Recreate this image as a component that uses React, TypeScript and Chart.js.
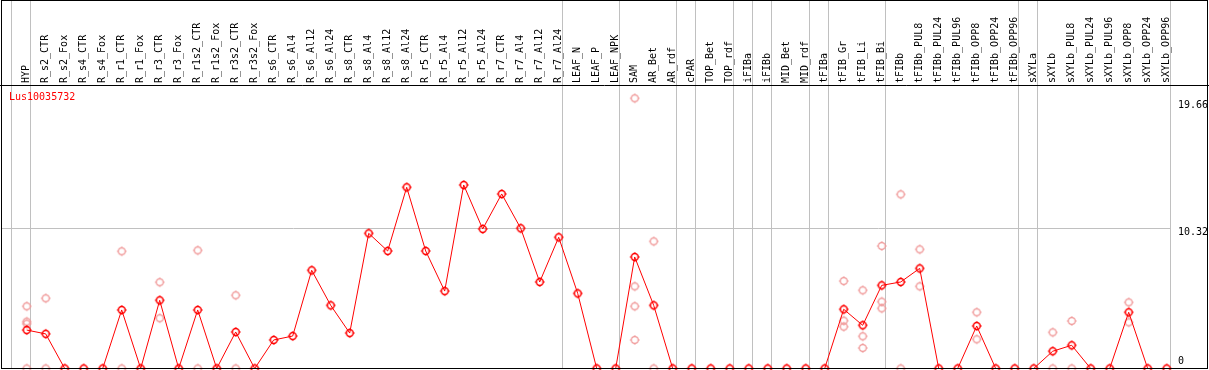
import React, { useEffect, useRef } from 'react';
import { Chart, registerables } from 'chart.js';

Chart.register(...registerables);

const GENE = 'Lus10035732';

const categories = [
  'HYP', 'R_s2_CTR', 'R_s2_Fox', 'R_s4_CTR', 'R_s4_Fox', 'R_r1_CTR', 'R_r1_Fox', 'R_r3_CTR', 'R_r3_Fox',
  'R_r1s2_CTR', 'R_r1s2_Fox', 'R_r3s2_CTR', 'R_r3s2_Fox', 'R_s6_CTR', 'R_s6_Al4', 'R_s6_Al12', 'R_s6_Al24',
  'R_s8_CTR', 'R_s8_Al4', 'R_s8_Al12', 'R_s8_Al24', 'R_r5_CTR', 'R_r5_Al4', 'R_r5_Al12', 'R_r5_Al24',
  'R_r7_CTR', 'R_r7_Al4', 'R_r7_Al12', 'R_r7_Al24', 'LEAF_N', 'LEAF_P', 'LEAF_NPK', 'SAM', 'AR_Bet', 'AR_rdf',
  'cPAR', 'TOP_Bet', 'TOP_rdf', 'iFIBa', 'iFIBb', 'MID_Bet', 'MID_rdf', 'tFIBa', 'tFIB_Gr', 'tFIB_Li', 'tFIB_Bi',
  'tFIBb', 'tFIBb_PUL8', 'tFIBb_PUL24', 'tFIBb_PUL96', 'tFIBb_OPP8', 'tFIBb_OPP24', 'tFIBb_OPP96',
  'sXYLa', 'sXYLb', 'sXYLb_PUL8', 'sXYLb_PUL24', 'sXYLb_PUL96', 'sXYLb_OPP8', 'sXYLb_OPP24', 'sXYLb_OPP96',
];

// mean expression per sample (red line)
const means = [
  2.83, 2.55, 0, 0, 0, 4.31, 0, 5.02, 0,
  4.31, 0, 2.69, 0, 2.10, 2.39, 7.23, 4.65,
  2.61, 9.95, 8.65, 13.34, 8.65, 5.70, 13.51, 10.27,
  12.85, 10.32, 6.37, 9.66, 5.53, 0, 0, 8.21, 4.65, 0,
  0, 0, 0, 0, 0, 0, 0, 0, 4.36, 3.18, 6.12,
  6.37, 7.37, 0, 0, 3.13, 0, 0,
  0, 1.27, 1.71, 0, 0, 4.14, 0, 0,
];

// individual replicate values per sample (faint circles)
const replicates: number[][] = [
  [4.58, 3.45, 3.3, 0], [5.17, 0], [], [], [], [8.63, 0], [], [6.35, 3.7], [],
  [8.7, 0], [], [5.39, 0], [], [], [], [], [],
  [], [], [], [], [], [], [], [],
  [], [], [], [], [], [], [], [19.89, 6.05, 4.58, 2.1], [9.36, 0], [],
  [], [], [], [], [], [], [], [], [6.44, 3.52, 3.08], [5.76, 2.37, 1.51], [9.02, 4.92, 4.43],
  [12.82, 0], [8.77, 6.05], [], [], [4.14, 2.15], [], [],
  [], [2.66, 0], [3.5, 0], [], [], [4.87, 3.4], [], [],
];

// index of last sample in each group (-1 = leading separator)
const groupEnds = [-1, 0, 28, 31, 34, 35, 37, 38, 39, 41, 42, 45, 52, 53, 60];

const yTickValues = [0, 10.32, 19.66];
const yTickLabels = ['0', '10.32', '19.66'];
const yMax = 20.87;

const FONT = { family: '"DejaVu Sans Mono", monospace', size: 10 };
const GRID = '#c0c0c0';
const CLEAR = 'rgba(0,0,0,0)';
const MEAN_COLOR = '#ff0000';
const REP_COLOR = '#f09a9a';

function noPadding(s: any) {
  s.paddingTop = 0;
  s.paddingBottom = 0;
  s.paddingLeft = 0;
  s.paddingRight = 0;
}

// circle marker with four small tips (N/E/S/W)
function makeMarker(color: string, width: number) {
  const size = 12;
  const cv = document.createElement('canvas');
  cv.width = size;
  cv.height = size;
  const c = cv.getContext('2d')!;
  const m = size / 2;
  c.strokeStyle = color;
  c.lineWidth = width;
  c.beginPath();
  c.arc(m, m, 3.4, 0, Math.PI * 2);
  c.stroke();
  c.lineWidth = 1;
  c.beginPath();
  c.moveTo(m, m - 3.4);
  c.lineTo(m, m - 5);
  c.moveTo(m, m + 3.4);
  c.lineTo(m, m + 5);
  c.moveTo(m - 3.4, m);
  c.lineTo(m - 5, m);
  c.moveTo(m + 3.4, m);
  c.lineTo(m + 5, m);
  c.stroke();
  return cv;
}

export default function App() {
  const ref = useRef<HTMLCanvasElement>(null);

  useEffect(() => {
    document.body.style.margin = '0';
    const canvas = ref.current;
    if (!canvas) return;

    const step = 19; // px per sample
    const firstX = 26.7;
    const left = 1;
    const right = 1171;
    const xMin = (left - firstX) / step;
    const xMax = xMin + (right - left) / step;
    const sepShift = 4 / step;

    const tickIdx: number[] = [];
    for (let i = -1; i < categories.length; i++) tickIdx.push(i);

    const sepColor = (c: any) => (groupEnds.includes(tickIdx[c.index]) ? GRID : CLEAR);

    const meanMarker = makeMarker(MEAN_COLOR, 1.5);
    const repMarker = makeMarker(REP_COLOR, 1.2);

    const framePlugin = {
      id: 'frame',
      afterDraw(chart: any) {
        const c = chart.ctx;
        const top = chart.chartArea.top;
        c.save();
        c.strokeStyle = '#000';
        c.lineWidth = 1;
        c.strokeRect(1.5, 0.5, 1206, 368);
        c.beginPath();
        c.moveTo(0, top + 0.5);
        c.lineTo(1209, top + 0.5);
        c.stroke();
        c.fillStyle = MEAN_COLOR;
        c.font = '10px "DejaVu Sans Mono", monospace';
        c.textBaseline = 'middle';
        c.textAlign = 'left';
        c.fillText(GENE, 9, 97);
        c.restore();
      },
    };

    const chart = new Chart(canvas, {
      type: 'line',
      data: {
        datasets: [
          {
            label: GENE,
            data: means.map((v, i) => ({ x: i, y: v })),
            borderColor: MEAN_COLOR,
            borderWidth: 1,
            pointStyle: meanMarker,
            pointRadius: 5,
            tension: 0,
            clip: false as any,
          },
          {
            label: 'replicates',
            data: replicates.flatMap((arr, i) => arr.map((v) => ({ x: i, y: v }))),
            showLine: false,
            pointStyle: repMarker,
            pointRadius: 5,
            clip: false as any,
          },
        ],
      },
      options: {
        animation: false,
        responsive: false,
        devicePixelRatio: 1,
        layout: { autoPadding: false, padding: { left: 1, right: 0, top: 0, bottom: 1.5 } },
        plugins: { legend: { display: false }, tooltip: { enabled: false } },
        events: [],
        scales: {
          x: {
            type: 'linear',
            position: 'top',
            min: xMin,
            max: xMax,
            afterBuildTicks: (s: any) => {
              s.ticks = tickIdx.map((i) => ({ value: i + sepShift }));
            },
            afterFit: (s: any) => {
              s.height = 85;
              noPadding(s);
            },
            ticks: {
              autoSkip: false,
              minRotation: 90,
              maxRotation: 90,
              labelOffset: 8,
              padding: -83,
              color: '#000',
              font: FONT,
              callback: (_v: any, i: number) => (tickIdx[i] < 0 ? '' : categories[tickIdx[i]]),
            },
            grid: {
              color: sepColor,
              tickColor: sepColor,
              tickLength: 85,
              lineWidth: 1,
              drawTicks: true,
            },
            border: { display: false },
          },
          y: {
            type: 'linear',
            position: 'right',
            min: 0,
            max: yMax,
            afterBuildTicks: (s: any) => {
              s.ticks = yTickValues.map((v) => ({ value: v === 0 ? 0.8 : v }));
            },
            afterFit: (s: any) => {
              s.width = 1209 - right;
              noPadding(s);
            },
            ticks: {
              autoSkip: false,
              labelOffset: 4,
              padding: 7,
              color: '#000',
              font: FONT,
              callback: (_v: any, i: number) => yTickLabels[i],
            },
            grid: {
              color: (c: any) => (c.tick && c.tick.value === 10.32 ? GRID : CLEAR),
              drawTicks: false,
              lineWidth: 1,
            },
            border: { display: false },
          },
        },
      },
      plugins: [framePlugin],
    } as any);

    return () => chart.destroy();
  }, []);

  return <canvas ref={ref} width={1209} height={370} style={{ display: 'block' }} />;
}
